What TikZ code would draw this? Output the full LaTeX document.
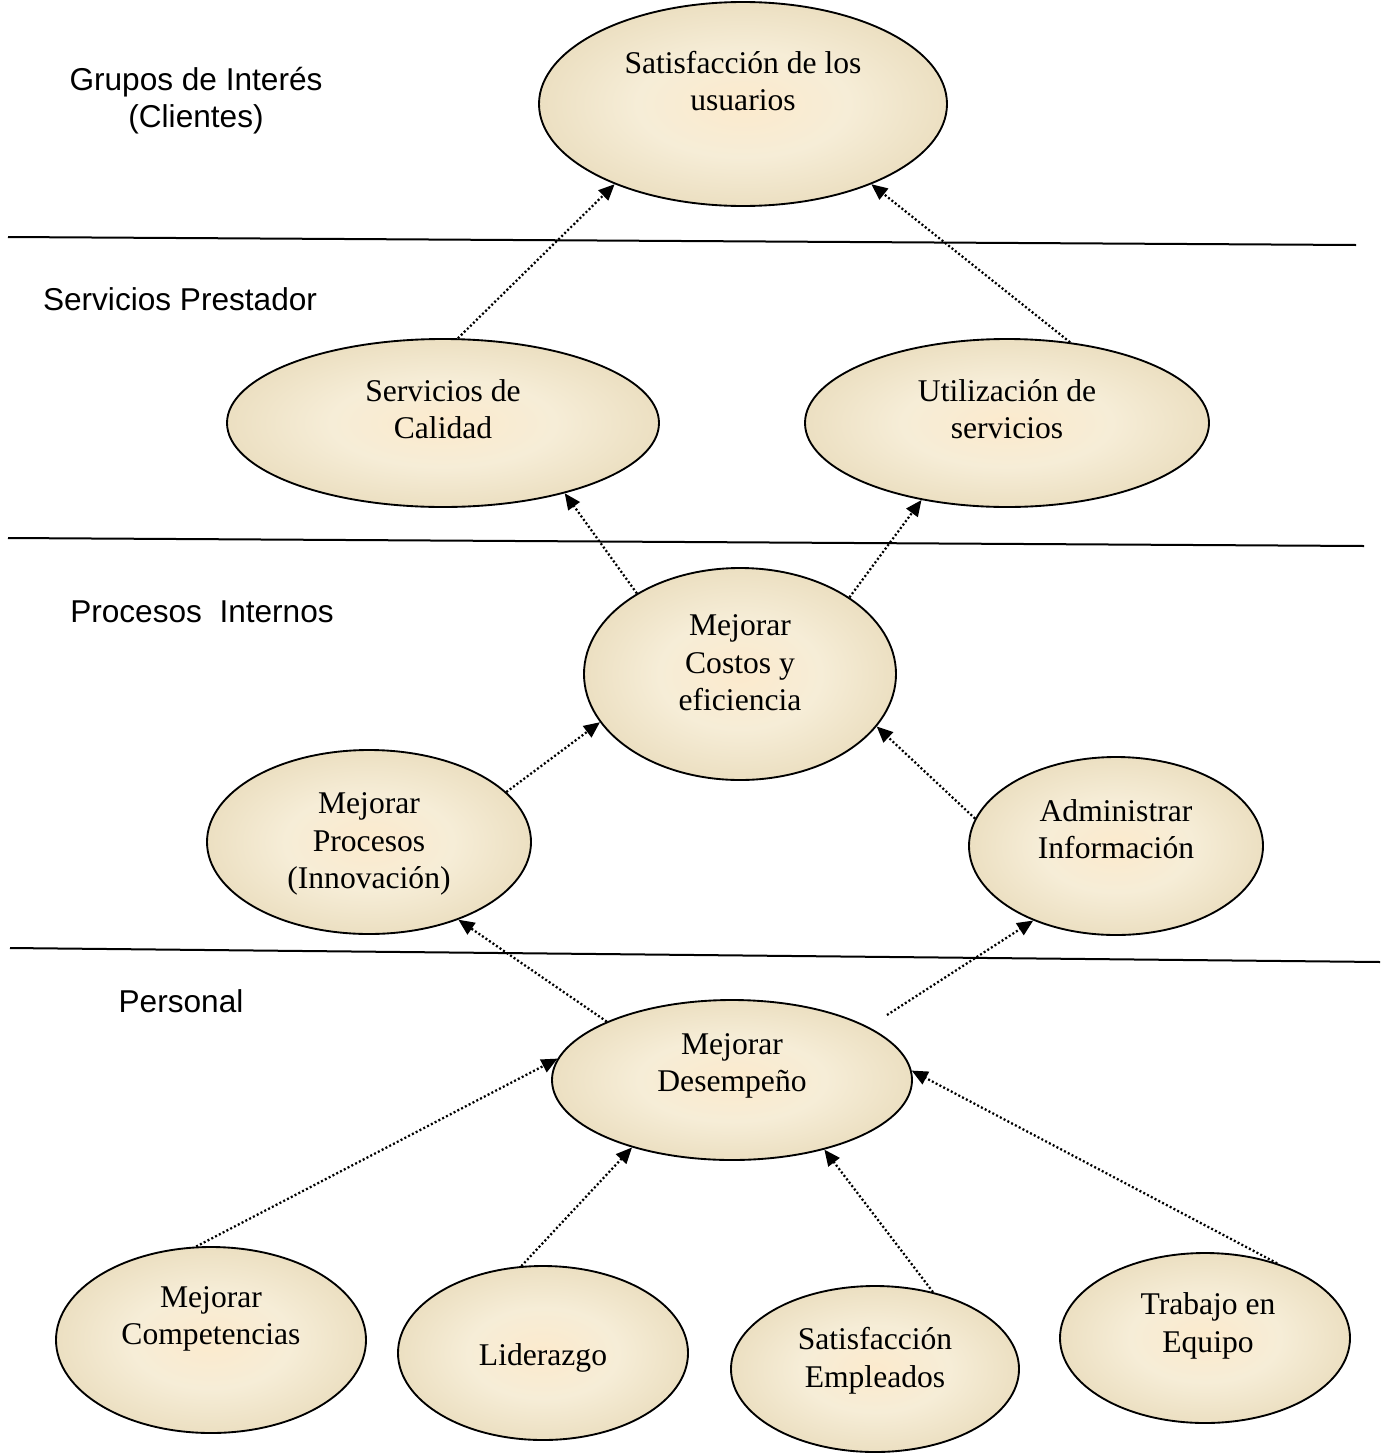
\documentclass[tikz,border=0pt]{standalone}
\usepackage{fontspec}
\setmainfont{Liberation Serif}
\newfontfamily\arialf{Liberation Sans}
\usetikzlibrary{shapes.geometric,arrows.meta}

\definecolor{tanA}{RGB}{252,234,205}
\definecolor{tanB}{RGB}{246,237,215}
\definecolor{tanC}{RGB}{234,221,190}
\definecolor{tanD}{RGB}{210,193,152}
\definecolor{tanE}{RGB}{178,158,114}
\pgfdeclareradialshading{tanglow}{\pgfpoint{0bp}{0bp}}{%
  color(0bp)=(tanA); color(13bp)=(tanB); color(27bp)=(tanC);
  color(40bp)=(tanD); color(50bp)=(tanE)}

\tikzset{
  oval/.style 2 args={ellipse, draw=black, line width=1.4pt, shading=tanglow,
    minimum width=#1, minimum height=#2, inner sep=0pt},
  txt/.style={font=\fontsize{23.7}{28.2}\selectfont, align=center, inner sep=0pt},
  lvl/.style={font=\arialf\fontsize{23.7}{27.8}\selectfont, align=center, inner sep=0pt},
  sep/.style={line width=1.5pt},
  link/.style={line width=1.7pt, dash pattern=on 1.5pt off 1.7pt,
    -{Triangle[length=12pt,width=10.5pt]}}
}

\begin{document}
\begin{tikzpicture}[x=0.75pt,y=-0.75pt]
\useasboundingbox (0,0) rectangle (1384,1453);

% level separators
\draw[sep] (8,237) -- (1356,245);
\draw[sep] (8,538) -- (1364,546);
\draw[sep] (10,948) -- (1380,962);

% level labels
\node[lvl] (lvlA) at (196,101) {Grupos de Interés\\(Clientes)};
\node[lvl] (lvlB) at (180,299) {Servicios Prestador};
\node[lvl] (lvlC) at (202,612) {Procesos\ \ Internos};
\node[lvl] (lvlD) at (181,1001) {Personal};

% objectives
\node[oval={306pt}{153pt}] (usr) at (743,104) {};
\node[oval={324pt}{126pt}] (cal) at (443,423) {};
\node[oval={303pt}{126pt}] (uti) at (1007,423) {};
\node[oval={234pt}{159pt}] (cos) at (740,674) {};
\node[oval={243pt}{138pt}] (pro) at (369,842) {};
\node[oval={220.5pt}{133.5pt}] (adm) at (1116,846) {};
\node[oval={270pt}{120pt}] (des) at (732,1080) {};
\node[oval={232.5pt}{139.5pt}] (com) at (211,1340) {};
\node[oval={217.5pt}{130.5pt}] (lid) at (543,1353) {};
\node[oval={216pt}{124.5pt}] (emp) at (875,1369) {};
\node[oval={217.5pt}{127.5pt}] (equ) at (1205,1338) {};

% objective texts
\node[txt] (usrT) at (743,81) {Satisfacción de los\\usuarios};
\node[txt] (calT) at (443,409) {Servicios de\\Calidad};
\node[txt] (utiT) at (1007,409) {Utilización de\\servicios};
\node[txt] (cosT) at (740,663) {Mejorar\\Costos y\\eficiencia};
\node[txt] (proT) at (369,844) {Mejorar\\Procesos\\(Innovación)};
\node[txt] (admT) at (1116,829) {Administrar\\Información};
\node[txt] (desT) at (732,1066) {Mejorar\\Desempeño};
\node[txt] (comT) at (211,1319) {Mejorar\\Competencias};
\node[txt] (lidT) at (543,1358) {Liderazgo};
\node[txt] (empT) at (875,1361) {Satisfacción\\Empleados};
\node[txt] (equT) at (1208,1326) {Trabajo en\\Equipo};

% cause-effect links
\coordinate (desOut) at (887,1015);
\draw[link] (cal.80.9) -- (usr.-148.9);
\draw[link] (uti.52.7) -- (usr.-32.3);
\draw[link] (cos.142.5) -- (cal.-30.6);
\draw[link] (cos.35.1) -- (uti.-138.6);
\draw[link] (pro.20.3) -- (cos.-161.1);
\draw[link] (adm.169.1) -- (cos.-21.2);
\draw[link] (des.155.7) -- (pro.-41.1);
\draw[link] (desOut) -- (adm.-138.6);
\draw[link] (com.99.9) -- (des.173);
\draw[link] (lid.104.5) -- (des.-146.4);
\draw[link] (emp.53.4) -- (des.-37.2);
\draw[link] (equ.46.5) -- (des.3.8);
\end{tikzpicture}
\end{document}
